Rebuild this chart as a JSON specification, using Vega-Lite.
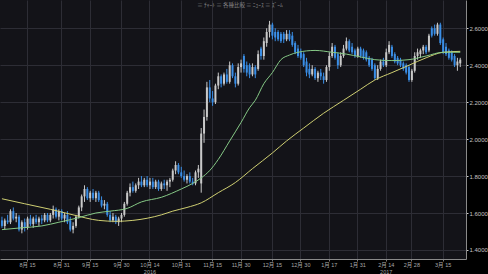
{
  "$schema": "https://vega.github.io/schema/vega-lite/v6.json",
  "width": 466,
  "height": 259,
  "autosize": {"type": "none"},
  "padding": {"left": 0, "top": 0, "right": 22, "bottom": 15},
  "background": "#000000",
  "title": {"text": "≡ ﾁｬｰﾄ   ≡ 各種比較   ≡ ﾆｭｰｽ   ≡ ｽﾞｰﾑ", "fontSize": 5.5, "color": "#8a8a8a", "font": "Noto Sans CJK JP", "fontWeight": "normal", "anchor": "middle", "offset": -8, "dx": 7, "frame": "group"},
  "config": {
    "view": {"stroke": null, "fill": "#131318"},
    "axis": {"labelFont": "Liberation Sans, Noto Sans CJK JP", "titleFont": "Liberation Sans"}
  },
  "data": {"values": [
    {"d":"2016-08-02","o":1.56,"h":1.58,"l":1.52,"c":1.53,"s":1.51,"m":1.677},
    {"d":"2016-08-03","o":1.53,"h":1.57,"l":1.51,"c":1.56},
    {"d":"2016-08-04","o":1.56,"h":1.59,"l":1.54,"c":1.55},
    {"d":"2016-08-05","o":1.55,"h":1.62,"l":1.54,"c":1.61},
    {"d":"2016-08-08","o":1.61,"h":1.63,"l":1.56,"c":1.57},
    {"d":"2016-08-09","o":1.57,"h":1.60,"l":1.55,"c":1.58},
    {"d":"2016-08-10","o":1.58,"h":1.59,"l":1.50,"c":1.51},
    {"d":"2016-08-11","o":1.51,"h":1.56,"l":1.49,"c":1.55,"s":1.52},
    {"d":"2016-08-12","o":1.55,"h":1.57,"l":1.50,"c":1.52,"m":1.65},
    {"d":"2016-08-15","o":1.52,"h":1.58,"l":1.51,"c":1.57},
    {"d":"2016-08-16","o":1.57,"h":1.59,"l":1.53,"c":1.54},
    {"d":"2016-08-17","o":1.54,"h":1.58,"l":1.52,"c":1.57},
    {"d":"2016-08-18","o":1.57,"h":1.59,"l":1.54,"c":1.55},
    {"d":"2016-08-19","o":1.55,"h":1.58,"l":1.53,"c":1.57},
    {"d":"2016-08-22","o":1.57,"h":1.59,"l":1.54,"c":1.56,"s":1.53},
    {"d":"2016-08-23","o":1.56,"h":1.60,"l":1.55,"c":1.59},
    {"d":"2016-08-24","o":1.59,"h":1.60,"l":1.55,"c":1.56},
    {"d":"2016-08-25","o":1.56,"h":1.60,"l":1.55,"c":1.59,"m":1.62},
    {"d":"2016-08-26","o":1.59,"h":1.64,"l":1.57,"c":1.62},
    {"d":"2016-08-29","o":1.62,"h":1.63,"l":1.57,"c":1.58},
    {"d":"2016-08-30","o":1.58,"h":1.62,"l":1.56,"c":1.61,"s":1.55},
    {"d":"2016-08-31","o":1.61,"h":1.62,"l":1.56,"c":1.57},
    {"d":"2016-09-01","o":1.57,"h":1.60,"l":1.55,"c":1.59},
    {"d":"2016-09-02","o":1.59,"h":1.61,"l":1.54,"c":1.55},
    {"d":"2016-09-06","o":1.56,"h":1.58,"l":1.50,"c":1.51},
    {"d":"2016-09-07","o":1.51,"h":1.55,"l":1.49,"c":1.53,"m":1.59},
    {"d":"2016-09-08","o":1.53,"h":1.59,"l":1.52,"c":1.58},
    {"d":"2016-09-09","o":1.58,"h":1.64,"l":1.57,"c":1.63,"s":1.575},
    {"d":"2016-09-12","o":1.63,"h":1.70,"l":1.61,"c":1.69},
    {"d":"2016-09-13","o":1.69,"h":1.75,"l":1.66,"c":1.73},
    {"d":"2016-09-14","o":1.73,"h":1.74,"l":1.67,"c":1.68},
    {"d":"2016-09-15","o":1.68,"h":1.72,"l":1.66,"c":1.71},
    {"d":"2016-09-16","o":1.71,"h":1.73,"l":1.67,"c":1.68},
    {"d":"2016-09-19","o":1.68,"h":1.72,"l":1.66,"c":1.71,"s":1.60},
    {"d":"2016-09-20","o":1.71,"h":1.72,"l":1.66,"c":1.67,"m":1.56},
    {"d":"2016-09-21","o":1.67,"h":1.69,"l":1.63,"c":1.64},
    {"d":"2016-09-22","o":1.64,"h":1.67,"l":1.62,"c":1.65},
    {"d":"2016-09-23","o":1.65,"h":1.66,"l":1.58,"c":1.59},
    {"d":"2016-09-26","o":1.59,"h":1.61,"l":1.55,"c":1.56,"s":1.61},
    {"d":"2016-09-27","o":1.56,"h":1.60,"l":1.55,"c":1.58},
    {"d":"2016-09-28","o":1.58,"h":1.59,"l":1.54,"c":1.55,"m":1.555},
    {"d":"2016-09-29","o":1.55,"h":1.58,"l":1.53,"c":1.57},
    {"d":"2016-09-30","o":1.57,"h":1.60,"l":1.55,"c":1.59},
    {"d":"2016-10-03","o":1.59,"h":1.66,"l":1.58,"c":1.65},
    {"d":"2016-10-04","o":1.65,"h":1.72,"l":1.64,"c":1.71,"s":1.625},
    {"d":"2016-10-05","o":1.71,"h":1.76,"l":1.69,"c":1.74},
    {"d":"2016-10-06","o":1.74,"h":1.77,"l":1.71,"c":1.72,"m":1.56},
    {"d":"2016-10-07","o":1.72,"h":1.76,"l":1.71,"c":1.75},
    {"d":"2016-10-10","o":1.75,"h":1.79,"l":1.73,"c":1.77},
    {"d":"2016-10-11","o":1.77,"h":1.80,"l":1.74,"c":1.75,"s":1.66},
    {"d":"2016-10-12","o":1.75,"h":1.79,"l":1.74,"c":1.78},
    {"d":"2016-10-13","o":1.78,"h":1.80,"l":1.74,"c":1.75},
    {"d":"2016-10-14","o":1.75,"h":1.79,"l":1.73,"c":1.77},
    {"d":"2016-10-17","o":1.77,"h":1.79,"l":1.73,"c":1.74},
    {"d":"2016-10-18","o":1.74,"h":1.78,"l":1.73,"c":1.77},
    {"d":"2016-10-19","o":1.77,"h":1.78,"l":1.72,"c":1.73},
    {"d":"2016-10-20","o":1.73,"h":1.77,"l":1.72,"c":1.76,"s":1.685,"m":1.59},
    {"d":"2016-10-21","o":1.76,"h":1.78,"l":1.73,"c":1.75},
    {"d":"2016-10-24","o":1.75,"h":1.78,"l":1.72,"c":1.77},
    {"d":"2016-10-25","o":1.77,"h":1.79,"l":1.74,"c":1.78},
    {"d":"2016-10-26","o":1.78,"h":1.84,"l":1.77,"c":1.83,"m":1.61},
    {"d":"2016-10-27","o":1.83,"h":1.88,"l":1.81,"c":1.86},
    {"d":"2016-10-28","o":1.86,"h":1.87,"l":1.81,"c":1.82},
    {"d":"2016-10-31","o":1.82,"h":1.85,"l":1.79,"c":1.80,"s":1.73},
    {"d":"2016-11-01","o":1.80,"h":1.83,"l":1.77,"c":1.78},
    {"d":"2016-11-02","o":1.78,"h":1.81,"l":1.76,"c":1.80,"m":1.63},
    {"d":"2016-11-03","o":1.80,"h":1.82,"l":1.76,"c":1.77},
    {"d":"2016-11-04","o":1.77,"h":1.79,"l":1.75,"c":1.76,"s":1.76},
    {"d":"2016-11-07","o":1.76,"h":1.83,"l":1.75,"c":1.82},
    {"d":"2016-11-08","o":1.82,"h":1.86,"l":1.79,"c":1.84},
    {"d":"2016-11-09","o":1.76,"h":2.06,"l":1.71,"c":2.03,"s":1.79,"m":1.655},
    {"d":"2016-11-10","o":2.03,"h":2.16,"l":1.98,"c":2.12},
    {"d":"2016-11-11","o":2.12,"h":2.31,"l":2.10,"c":2.28},
    {"d":"2016-11-14","o":2.28,"h":2.32,"l":2.20,"c":2.22,"s":1.83},
    {"d":"2016-11-15","o":2.22,"h":2.26,"l":2.18,"c":2.20},
    {"d":"2016-11-16","o":2.20,"h":2.30,"l":2.19,"c":2.29},
    {"d":"2016-11-17","o":2.29,"h":2.36,"l":2.27,"c":2.34,"s":1.89,"m":1.71},
    {"d":"2016-11-18","o":2.34,"h":2.35,"l":2.28,"c":2.30},
    {"d":"2016-11-21","o":2.30,"h":2.36,"l":2.29,"c":2.35},
    {"d":"2016-11-22","o":2.35,"h":2.38,"l":2.30,"c":2.31},
    {"d":"2016-11-23","o":2.31,"h":2.42,"l":2.30,"c":2.40,"s":1.99},
    {"d":"2016-11-25","o":2.40,"h":2.41,"l":2.33,"c":2.34},
    {"d":"2016-11-28","o":2.34,"h":2.36,"l":2.28,"c":2.30,"m":1.765},
    {"d":"2016-11-29","o":2.30,"h":2.41,"l":2.29,"c":2.39},
    {"d":"2016-11-30","o":2.39,"h":2.43,"l":2.36,"c":2.41,"s":2.09},
    {"d":"2016-12-01","o":2.45,"h":2.46,"l":2.36,"c":2.38},
    {"d":"2016-12-02","o":2.40,"h":2.42,"l":2.34,"c":2.36},
    {"d":"2016-12-05","o":2.40,"h":2.41,"l":2.33,"c":2.35,"s":2.17},
    {"d":"2016-12-06","o":2.35,"h":2.41,"l":2.34,"c":2.39,"m":1.84},
    {"d":"2016-12-07","o":2.39,"h":2.40,"l":2.33,"c":2.35,"s":2.21},
    {"d":"2016-12-08","o":2.38,"h":2.48,"l":2.37,"c":2.46},
    {"d":"2016-12-09","o":2.49,"h":2.50,"l":2.43,"c":2.45},
    {"d":"2016-12-12","o":2.45,"h":2.55,"l":2.43,"c":2.53,"s":2.30},
    {"d":"2016-12-13","o":2.52,"h":2.60,"l":2.50,"c":2.58},
    {"d":"2016-12-14","o":2.58,"h":2.64,"l":2.55,"c":2.62},
    {"d":"2016-12-15","o":2.62,"h":2.63,"l":2.54,"c":2.56,"s":2.36,"m":1.925},
    {"d":"2016-12-16","o":2.58,"h":2.60,"l":2.53,"c":2.55},
    {"d":"2016-12-19","o":2.58,"h":2.59,"l":2.53,"c":2.54},
    {"d":"2016-12-20","o":2.57,"h":2.58,"l":2.52,"c":2.53,"s":2.43},
    {"d":"2016-12-21","o":2.57,"h":2.58,"l":2.52,"c":2.54},
    {"d":"2016-12-22","o":2.54,"h":2.59,"l":2.53,"c":2.57,"m":1.99},
    {"d":"2016-12-23","o":2.57,"h":2.59,"l":2.53,"c":2.54,"s":2.455},
    {"d":"2016-12-27","o":2.56,"h":2.58,"l":2.50,"c":2.51},
    {"d":"2016-12-28","o":2.52,"h":2.53,"l":2.46,"c":2.47},
    {"d":"2016-12-29","o":2.49,"h":2.51,"l":2.44,"c":2.45,"s":2.47},
    {"d":"2016-12-30","o":2.47,"h":2.49,"l":2.43,"c":2.44},
    {"d":"2017-01-03","o":2.46,"h":2.47,"l":2.39,"c":2.40,"m":2.06},
    {"d":"2017-01-04","o":2.42,"h":2.44,"l":2.34,"c":2.36},
    {"d":"2017-01-05","o":2.38,"h":2.41,"l":2.33,"c":2.35},
    {"d":"2017-01-06","o":2.35,"h":2.40,"l":2.34,"c":2.38},
    {"d":"2017-01-09","o":2.38,"h":2.39,"l":2.32,"c":2.33,"s":2.48},
    {"d":"2017-01-10","o":2.33,"h":2.37,"l":2.31,"c":2.36},
    {"d":"2017-01-11","o":2.36,"h":2.38,"l":2.32,"c":2.34},
    {"d":"2017-01-12","o":2.34,"h":2.36,"l":2.30,"c":2.32,"m":2.14},
    {"d":"2017-01-13","o":2.32,"h":2.40,"l":2.31,"c":2.39},
    {"d":"2017-01-17","o":2.39,"h":2.47,"l":2.37,"c":2.45},
    {"d":"2017-01-18","o":2.45,"h":2.52,"l":2.44,"c":2.50,"s":2.47},
    {"d":"2017-01-19","o":2.50,"h":2.51,"l":2.43,"c":2.44},
    {"d":"2017-01-20","o":2.46,"h":2.47,"l":2.38,"c":2.40},
    {"d":"2017-01-23","o":2.40,"h":2.47,"l":2.39,"c":2.45},
    {"d":"2017-01-24","o":2.45,"h":2.51,"l":2.44,"c":2.49,"m":2.21},
    {"d":"2017-01-25","o":2.49,"h":2.55,"l":2.48,"c":2.53,"s":2.46},
    {"d":"2017-01-26","o":2.53,"h":2.54,"l":2.47,"c":2.48},
    {"d":"2017-01-27","o":2.50,"h":2.52,"l":2.46,"c":2.47},
    {"d":"2017-01-30","o":2.48,"h":2.49,"l":2.44,"c":2.45},
    {"d":"2017-01-31","o":2.45,"h":2.50,"l":2.44,"c":2.49},
    {"d":"2017-02-01","o":2.49,"h":2.50,"l":2.44,"c":2.45,"s":2.445,"m":2.27},
    {"d":"2017-02-02","o":2.48,"h":2.49,"l":2.43,"c":2.44},
    {"d":"2017-02-03","o":2.47,"h":2.48,"l":2.42,"c":2.43},
    {"d":"2017-02-06","o":2.44,"h":2.45,"l":2.39,"c":2.40},
    {"d":"2017-02-07","o":2.43,"h":2.44,"l":2.37,"c":2.38},
    {"d":"2017-02-08","o":2.40,"h":2.41,"l":2.32,"c":2.33,"s":2.43,"m":2.32},
    {"d":"2017-02-09","o":2.33,"h":2.40,"l":2.32,"c":2.38},
    {"d":"2017-02-10","o":2.38,"h":2.43,"l":2.37,"c":2.42},
    {"d":"2017-02-13","o":2.42,"h":2.44,"l":2.39,"c":2.40},
    {"d":"2017-02-14","o":2.40,"h":2.49,"l":2.39,"c":2.47},
    {"d":"2017-02-15","o":2.47,"h":2.53,"l":2.46,"c":2.51},
    {"d":"2017-02-16","o":2.50,"h":2.51,"l":2.44,"c":2.45,"s":2.425,"m":2.36},
    {"d":"2017-02-17","o":2.46,"h":2.47,"l":2.41,"c":2.42},
    {"d":"2017-02-21","o":2.44,"h":2.45,"l":2.40,"c":2.41},
    {"d":"2017-02-22","o":2.43,"h":2.44,"l":2.39,"c":2.40},
    {"d":"2017-02-23","o":2.41,"h":2.42,"l":2.37,"c":2.38},
    {"d":"2017-02-24","o":2.40,"h":2.41,"l":2.35,"c":2.36},
    {"d":"2017-02-27","o":2.39,"h":2.40,"l":2.31,"c":2.32,"s":2.43,"m":2.40},
    {"d":"2017-02-28","o":2.32,"h":2.38,"l":2.31,"c":2.37},
    {"d":"2017-03-01","o":2.37,"h":2.47,"l":2.36,"c":2.45},
    {"d":"2017-03-02","o":2.45,"h":2.49,"l":2.43,"c":2.47},
    {"d":"2017-03-03","o":2.46,"h":2.49,"l":2.44,"c":2.48},
    {"d":"2017-03-06","o":2.48,"h":2.51,"l":2.46,"c":2.50},
    {"d":"2017-03-07","o":2.50,"h":2.51,"l":2.46,"c":2.47,"s":2.45,"m":2.44},
    {"d":"2017-03-08","o":2.48,"h":2.57,"l":2.47,"c":2.56},
    {"d":"2017-03-09","o":2.60,"h":2.61,"l":2.55,"c":2.56},
    {"d":"2017-03-10","o":2.60,"h":2.62,"l":2.56,"c":2.57},
    {"d":"2017-03-13","o":2.57,"h":2.63,"l":2.56,"c":2.62},
    {"d":"2017-03-14","o":2.62,"h":2.63,"l":2.51,"c":2.52},
    {"d":"2017-03-15","o":2.54,"h":2.55,"l":2.46,"c":2.47,"s":2.47,"m":2.47},
    {"d":"2017-03-16","o":2.50,"h":2.52,"l":2.45,"c":2.46},
    {"d":"2017-03-17","o":2.48,"h":2.49,"l":2.43,"c":2.44},
    {"d":"2017-03-20","o":2.47,"h":2.48,"l":2.42,"c":2.43},
    {"d":"2017-03-21","o":2.45,"h":2.46,"l":2.39,"c":2.40},
    {"d":"2017-03-22","o":2.40,"h":2.44,"l":2.37,"c":2.42},
    {"d":"2017-03-23","o":2.41,"h":2.44,"l":2.39,"c":2.43,"s":2.47,"m":2.475}
  ]},
  "encoding": {
    "x": {
      "field": "d", "type": "ordinal", "sort": "ascending", "title": null,
      "scale": {"type": "band", "paddingInner": 0.3, "paddingOuter": 1.715, "align": 0.166, "round": false},
      "axis": {
        "values": ["2016-08-15","2016-08-31","2016-09-15","2016-09-30","2016-10-14","2016-10-31","2016-11-15","2016-11-30","2016-12-15","2016-12-30","2017-01-17","2017-01-31","2017-02-14","2017-02-28","2017-03-15"],
        "labelExpr": "datum.value == '2016-10-14' ? ['10月 14', '2016'] : datum.value == '2017-02-14' ? ['2月 14', '2017'] : toNumber(slice(datum.value, 5, 7)) + '月 ' + slice(datum.value, 8, 10)",
        "labelAngle": 0, "labelFontSize": 5.5, "labelColor": "#a8a8a8", "labelPadding": 1, "labelLineHeight": 7,
        "labelOverlap": false,
        "grid": true, "gridColor": "#2d2d35", "gridWidth": 1,
        "ticks": true, "tickSize": 2, "tickColor": "#777777", "tickBand": "center",
        "domain": true, "domainColor": "#8a8a8a", "domainWidth": 1
      }
    }
  },
  "layer": [
    {
      "mark": {"type": "rule", "strokeWidth": 1},
      "encoding": {
        "x": {"field": "d", "type": "ordinal", "bandPosition": 0.5},
        "y": {
          "field": "l", "type": "quantitative", "title": null,
          "scale": {"domain": [1.351, 2.753], "nice": false, "zero": false},
          "axis": {
            "orient": "right",
            "values": [1.4, 1.5, 1.6, 1.7, 1.8, 1.9, 2.0, 2.1, 2.2, 2.3, 2.4, 2.5, 2.6, 2.7],
            "labelExpr": "round(datum.value * 10) % 2 == 0 ? format(datum.value, '.4f') : ''",
            "labelFontSize": 6, "labelColor": "#c4c4c4", "labelPadding": 1,
            "grid": true, "gridColor": "#2d2d35",
            "gridOpacity": {"condition": {"test": "round(datum.value * 10) % 2 == 1", "value": 0}, "value": 1},
            "tickColor": "#cccccc",
            "tickSize": {"condition": {"test": "round(datum.value * 10) % 2 == 1", "value": 1}, "value": 2},
            "domain": true, "domainColor": "#8a8a8a"
          }
        },
        "y2": {"field": "h"},
        "color": {"condition": {"test": "datum.c >= datum.o", "value": "#c9c9c9"}, "value": "#3a8ee6"}
      }
    },
    {
      "mark": {"type": "bar"},
      "encoding": {
        "y": {"field": "o", "type": "quantitative", "title": null},
        "y2": {"field": "c"},
        "color": {"condition": {"test": "datum.c >= datum.o", "value": "#c9c9c9"}, "value": "#3a8ee6"}
      }
    },
    {
      "transform": [{"filter": "isValid(datum.m)"}],
      "mark": {"type": "line", "strokeWidth": 1, "interpolate": "monotone", "color": "#cfcf72"},
      "encoding": {
        "x": {"field": "d", "type": "ordinal", "bandPosition": 0.5},
        "y": {"field": "m", "type": "quantitative", "title": null}
      }
    },
    {
      "transform": [{"filter": "isValid(datum.s)"}],
      "mark": {"type": "line", "strokeWidth": 1, "interpolate": "monotone", "color": "#86c986"},
      "encoding": {
        "x": {"field": "d", "type": "ordinal", "bandPosition": 0.5},
        "y": {"field": "s", "type": "quantitative", "title": null}
      }
    }
  ]
}
